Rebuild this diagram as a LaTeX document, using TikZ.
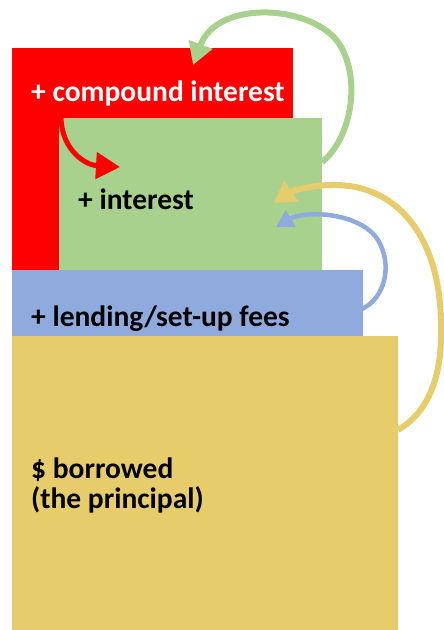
\documentclass[tikz,border=0pt]{standalone}
\usepackage{fontspec}
\setmainfont{Carlito}
\usetikzlibrary{arrows.meta}

\definecolor{loanred}{HTML}{FF0000}
\definecolor{loangreen}{HTML}{A9D18E}
\definecolor{loanblue}{HTML}{8FAADC}
\definecolor{loangold}{HTML}{E6CC6B}

\tikzset{
  layer/.style={anchor=north west, inner sep=0pt, outer sep=0pt},
  tag/.style={anchor=base west, inner sep=0pt, align=left,
    font=\bfseries\fontsize{29.5}{30}\selectfont},
  swing/.style={line width=#1, line cap=butt},
}

\begin{document}
\begin{tikzpicture}[x=1pt, y=-1pt]

  \useasboundingbox (0,0) rectangle (444,630);

  % stacked blocks, back to front
  \node[layer, fill=loanred, minimum width=281pt, minimum height=224pt] (compound) at (12,48) {};
  \node[layer, fill=loangreen, minimum width=263pt, minimum height=153pt] (interest) at (59,118) {};
  \node[layer, fill=loanblue, minimum width=351pt, minimum height=66pt] (fees) at (12,270) {};
  \node[layer, fill=loangold, minimum width=386pt, minimum height=294pt] (principal) at (12,336) {};

  \node[tag, white] (compoundtxt) at (31,101) {+ compound interest};
  \node[tag] (interesttxt) at (78,209) {+ interest};
  \node[tag] (feestxt) at (31,326) {+ lending/set-up fees};
  \node[tag] (principaltxt) at (31,508) {\$ borrowed\\(the principal)};

  % arrow ends
  \coordinate (G0) at (322,162);
  \coordinate (G1) at (340,45);
  \coordinate (G2) at (193,65);

  \coordinate (R0) at (61,118);
  \coordinate (R1) at (120,167);

  \coordinate (Y0) at (398,430);
  \coordinate (Y1) at (441,320);
  \coordinate (Y2) at (330,185);
  \coordinate (Y3) at (274,203);

  \coordinate (B0) at (362,309);
  \coordinate (B1) at (378,240);
  \coordinate (B2) at (276,227);

  % interest feeding back into interest
  \draw[swing=6pt, loangreen, -{Triangle[length=22pt, width=24pt]}]
    (G0) .. controls (350,140) and (362,82) .. (G1)
         .. controls (315,5) and (218,-2) .. (G2);

  \draw[swing=5pt, loanred, -{Triangle[length=24pt, width=26pt]}]
    (R0) .. controls (62,150) and (85,165) .. (R1);

  \draw[swing=6pt, loangold, -{Triangle[length=21pt, width=24pt]}]
    (Y0) .. controls (432,410) and (443,370) .. (Y1)
         .. controls (439,240) and (400,183) .. (Y2)
         .. controls (305,186) and (290,192) .. (Y3);

  \draw[swing=4.5pt, loanblue, -{Triangle[length=17pt, width=18pt]}]
    (B0) .. controls (385,298) and (393,265) .. (B1)
         .. controls (360,212) and (305,210) .. (B2);

\end{tikzpicture}
\end{document}
